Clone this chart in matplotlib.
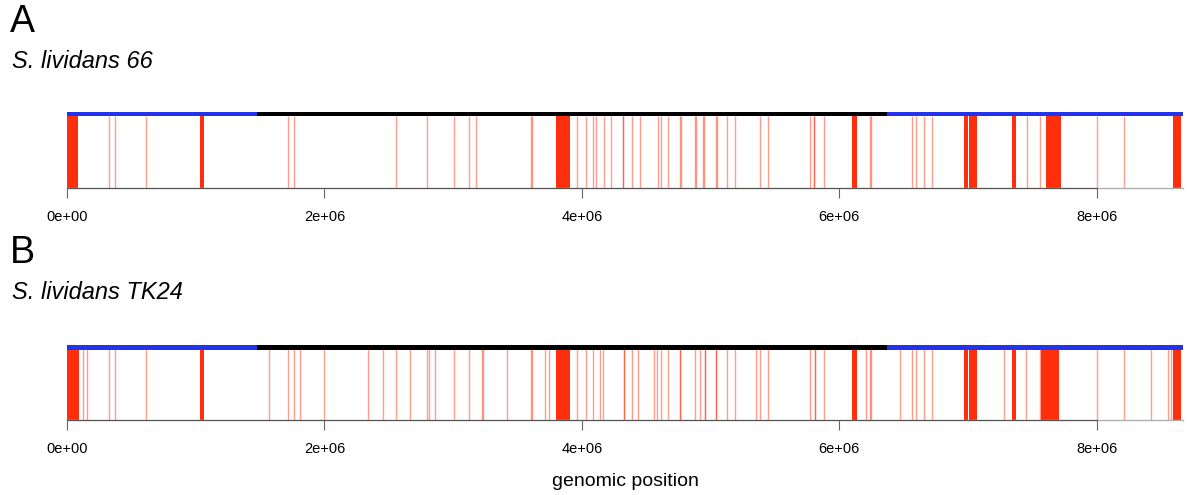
import numpy as np
import matplotlib
matplotlib.use("Agg")
import matplotlib.pyplot as plt

plt.rcParams['font.family'] = ['Liberation Sans', 'DejaVu Sans']

GENOME_LEN = 8.67e6
TICKS = [0, 2e6, 4e6, 6e6, 8e6]
TICK_LABELS = ["0e+00", "2e+06", "4e+06", "6e+06", "8e+06"]

# chromosome arms / core region (start, end, colour)
REGIONS = [(0, 1.475e6, "#2233ee"), (1.475e6, 6.37e6, "black"), (6.37e6, GENOME_LEN, "#2233ee")]

# panel A: S. lividans 66 - single hits (Mb) and dense clusters (start, end in Mb)
a_lines = [0.326, 0.373, 0.614, 1.714, 1.765, 2.553, 2.794, 3.006, 3.12, 3.177,
           3.605, 3.609, 3.964, 4.036, 4.088, 4.109, 4.173, 4.23, 4.319, 4.323,
           4.386, 4.45, 4.593, 4.614, 4.67, 4.764, 4.768, 4.881, 4.885, 4.945, 4.949,
           5.044, 5.048, 5.124, 5.188, 5.383, 5.447, 5.771, 5.802, 5.806, 5.88,
           6.24, 6.244, 6.568, 6.599, 6.656, 6.724, 7.459, 7.563, 8.005, 8.21]
a_blocks = [(0.0, 0.088), (1.03, 1.062), (3.798, 3.907), (6.102, 6.141),
            (6.97, 7.0), (7.01, 7.07), (7.342, 7.376), (7.604, 7.726), (8.59, 8.658)]

# panel B: S. lividans TK24
b_lines = [0.127, 0.153, 0.326, 0.373, 0.614, 1.569, 1.714, 1.765, 1.81, 1.996,
           2.34, 2.452, 2.553, 2.664, 2.794, 2.814, 2.858, 3.006, 3.12, 3.221, 3.234,
           3.415, 3.605, 3.609, 3.713, 3.746, 3.964, 4.036, 4.088, 4.14, 4.166,
           4.324, 4.328, 4.386, 4.437, 4.559, 4.585, 4.614, 4.67, 4.759, 4.763,
           4.883, 4.917, 4.953, 4.957, 5.039, 5.043, 5.124, 5.188, 5.351, 5.383,
           5.447, 5.771, 5.808, 5.812, 5.88, 6.211, 6.24, 6.244, 6.475, 6.568,
           6.599, 6.656, 6.724, 7.28, 7.454, 7.563, 8.005, 8.21, 8.42, 8.554, 8.58]
b_blocks = [(0.0, 0.09), (1.03, 1.062), (3.798, 3.907), (6.10, 6.14),
            (6.97, 7.0), (7.01, 7.07), (7.342, 7.376), (7.57, 7.707), (8.59, 8.658)]

RED = "#ff2400"


def draw_panel(ax, lines, blocks):
    ax.set_xlim(0, GENOME_LEN)
    ax.set_ylim(0, 1.0)
    ax.vlines(np.array(lines) * 1e6, 0, 0.95, color=RED, alpha=0.45, lw=1.0)
    for s, e in blocks:
        ax.axvspan(s * 1e6, e * 1e6, ymin=0, ymax=0.95, color=RED, alpha=0.95, lw=0)
    for s, e, c in REGIONS:
        ax.axvspan(s, e, ymin=0.94, ymax=1.0, color=c, lw=0)
    for sp in ["top", "right", "left"]:
        ax.spines[sp].set_visible(False)
    ax.spines["bottom"].set_color("#555555")
    ax.spines["bottom"].set_bounds(0, 8e6)
    ax.spines["bottom"].set_zorder(5)
    ax.axhline(0, color="#b0b0b0", lw=1.0, zorder=4, clip_on=False)
    ax.set_yticks([])
    ax.set_xticks(TICKS)
    ax.set_xticklabels(TICK_LABELS, fontsize=10.5)
    ax.tick_params(axis="x", length=7, width=0.8, color="#666666", pad=9)


fig = plt.figure(figsize=(12, 4.95), dpi=100)
ax_a = fig.add_axes([0.0558, 0.620, 0.930, 0.154])
ax_b = fig.add_axes([0.0558, 0.151, 0.930, 0.152])
draw_panel(ax_a, a_lines, a_blocks)
draw_panel(ax_b, b_lines, b_blocks)

fig.text(0.008, 0.935, "A", fontsize=27)
fig.text(0.010, 0.862, "S. lividans 66", fontsize=17, style="italic")
fig.text(0.008, 0.468, "B", fontsize=27)
fig.text(0.010, 0.395, "S. lividans TK24", fontsize=17, style="italic")
ax_b.set_xlabel("genomic position", fontsize=14, labelpad=12)

fig.savefig("out.png", dpi=100)
